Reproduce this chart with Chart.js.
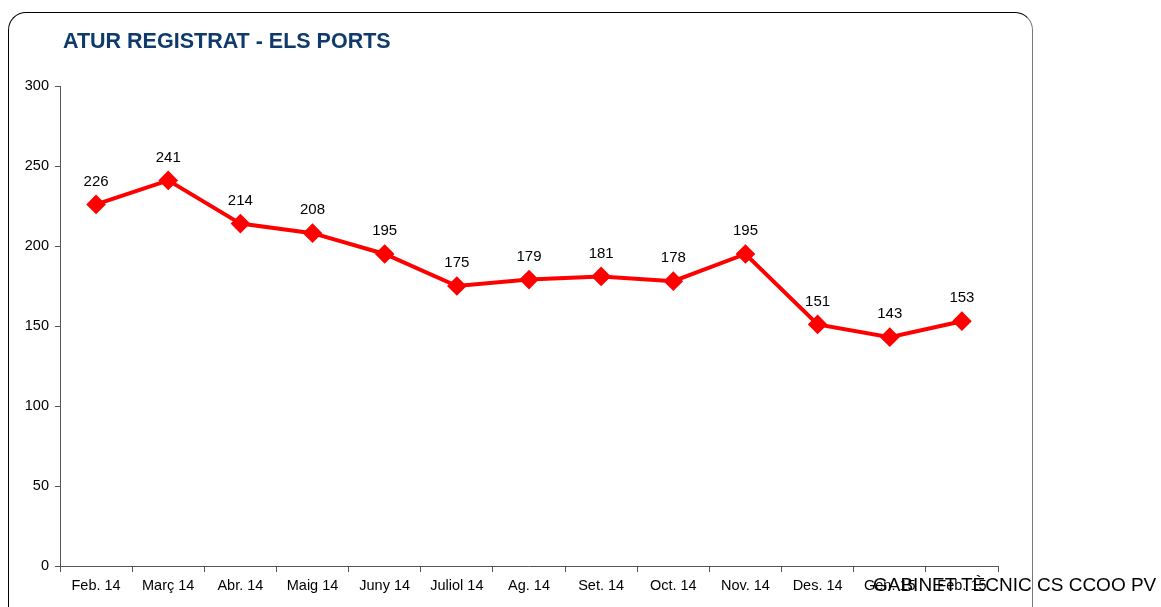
<!DOCTYPE html>
<html>
<head>
<meta charset="utf-8">
<script src="https://cdn.jsdelivr.net/npm/chart.js@4/dist/chart.umd.min.js"></script>
<style>
  html, body { margin: 0; padding: 0; background: #fff; overflow: hidden; }
  #wrap { position: relative; width: 1161px; height: 607px; }
  #frame {
    position: absolute; left: 8px; top: 12px; width: 1025px; height: 640px;
    border: 1px solid #000; border-right-color: #777; border-radius: 18px; box-sizing: border-box;
  }
  #title {
    position: absolute; left: 63px; top: 29px;
    font: bold 21.5px "Liberation Sans", Arial, sans-serif; color: #0f3a6c;
  }
  #footer {
    position: absolute; left: 873px; top: 574px;
    font: 19px "Liberation Sans", Arial, sans-serif; color: #000;
  }
  canvas { position: absolute; left: 0; top: 0; }
</style>
</head>
<body>
<div id="wrap">
  <div id="frame"></div>
  <canvas id="chart" width="1161" height="607"></canvas>
  <div id="title">ATUR REGISTRAT - ELS PORTS</div>
  <div id="footer">GABINET TÈCNIC CS CCOO PV</div>
</div>
<script>
const months = ['Feb. 14', 'Març 14', 'Abr. 14', 'Maig 14', 'Juny 14', 'Juliol 14', 'Ag. 14',
  'Set. 14', 'Oct. 14', 'Nov. 14', 'Des. 14', 'Gen. 15', 'Feb. 15'];
const atur = [226, 241, 214, 208, 195, 175, 179, 181, 178, 195, 151, 143, 153];

const valueLabels = {
  id: 'valueLabels',
  afterDatasetsDraw(chart) {
    const ctx = chart.ctx;
    const meta = chart.getDatasetMeta(0);
    ctx.save();
    ctx.font = '15px "Liberation Sans", Arial, sans-serif';
    ctx.fillStyle = '#000';
    ctx.textAlign = 'center';
    ctx.textBaseline = 'middle';
    meta.data.forEach((pt, i) => {
      ctx.fillText(String(atur[i]), pt.x, pt.y - 23);
    });
    ctx.restore();
  }
};

const axisFont = { family: '"Liberation Sans", Arial, sans-serif', size: 14.5 };

new Chart(document.getElementById('chart'), {
  type: 'line',
  data: {
    labels: months,
    datasets: [{
      data: atur,
      borderColor: '#ff0000',
      backgroundColor: '#ff0000',
      borderWidth: 4,
      pointStyle: 'rectRot',
      pointRadius: 7,
      pointHoverRadius: 7,
      tension: 0,
      fill: false
    }]
  },
  options: {
    responsive: false,
    animation: false,
    layout: { padding: { left: 0, top: 86, right: 163, bottom: 0 } },
    plugins: {
      legend: { display: false },
      tooltip: { enabled: false }
    },
    scales: {
      x: {
        offset: true,
        grid: { offset: true, drawOnChartArea: false, drawTicks: true, tickLength: 6, color: '#555' },
        border: { color: '#555' },
        ticks: { color: '#000', font: axisFont, padding: 5, maxRotation: 0, autoSkip: false },
        afterFit(scale) { scale.height = 41; }
      },
      y: {
        min: 0,
        max: 300,
        ticks: { stepSize: 50, color: '#000', font: axisFont, padding: 6 },
        grid: { drawOnChartArea: false, drawTicks: true, tickLength: 5, color: '#555' },
        border: { color: '#555' },
        afterFit(scale) { scale.width = 60; }
      }
    }
  },
  plugins: [valueLabels]
});
</script>
</body>
</html>
